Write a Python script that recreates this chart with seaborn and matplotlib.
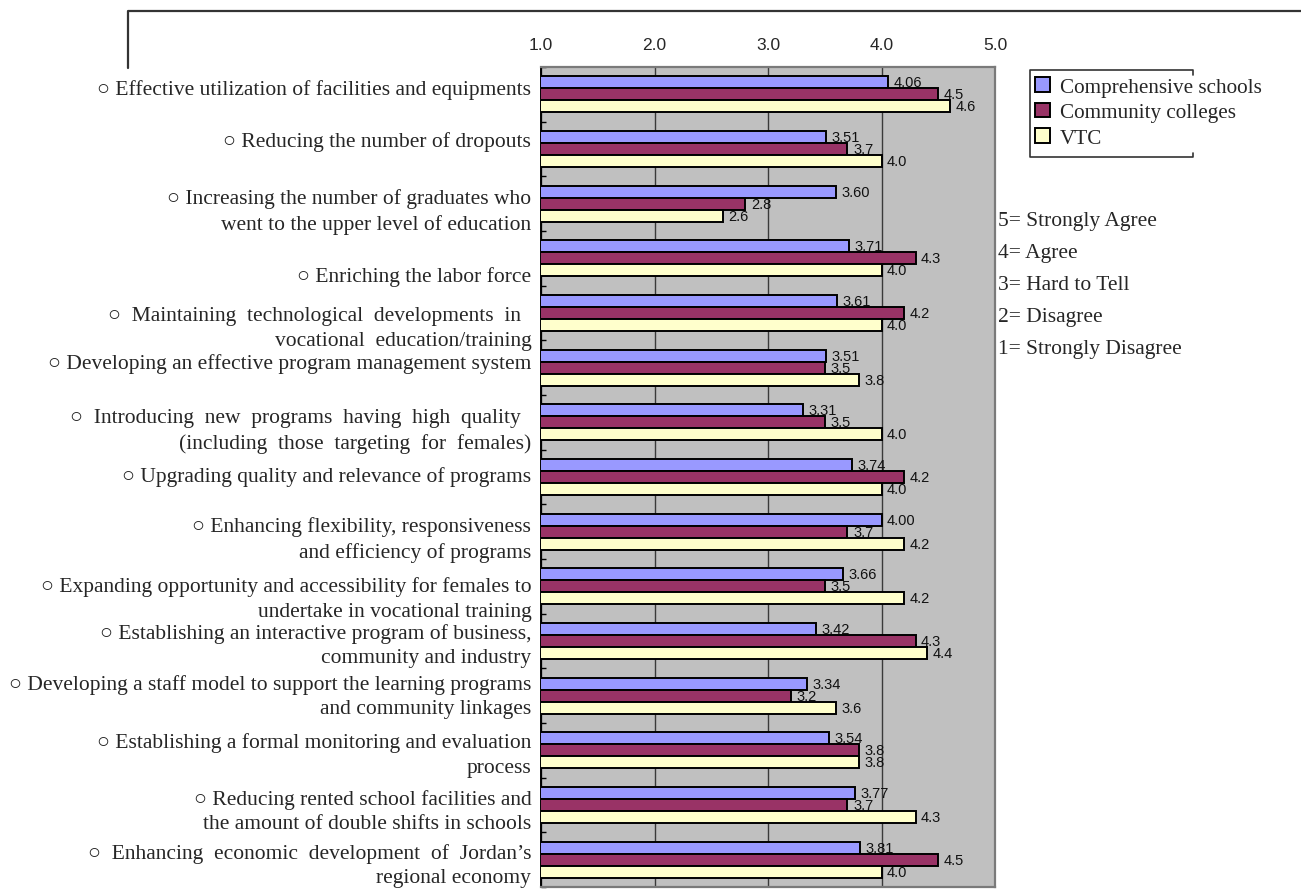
import numpy as np
import pandas as pd
import matplotlib
matplotlib.use("Agg")
import matplotlib.pyplot as plt
from matplotlib.lines import Line2D
from matplotlib.transforms import ScaledTranslation
import seaborn as sns

# Survey items (top to bottom) and mean agreement scores per institution type
items = [
    "○ Effective utilization of facilities and equipments",
    "○ Reducing the number of dropouts",
    "○ Increasing the number of graduates who\nwent to the upper level of education",
    "○ Enriching the labor force",
    "○  Maintaining  technological  developments  in  \nvocational  education/training",
    "○ Developing an effective program management system",
    "○  Introducing  new  programs  having  high  quality  \n(including  those  targeting  for  females)",
    "○ Upgrading quality and relevance of programs",
    "○ Enhancing flexibility, responsiveness\nand efficiency of programs",
    "○ Expanding opportunity and accessibility for females to\nundertake in vocational training",
    "○ Establishing an interactive program of business,\ncommunity and industry",
    "○ Developing a staff model to support the learning programs\nand community linkages",
    "○ Establishing a formal monitoring and evaluation\nprocess",
    "○ Reducing rented school facilities and\nthe amount of double shifts in schools",
    "○  Enhancing  economic  development  of  Jordan’s\nregional economy",
]

groups = ["Comprehensive schools", "Community colleges", "VTC"]

comprehensive = [4.06, 3.51, 3.60, 3.71, 3.61, 3.51, 3.31, 3.74, 4.00, 3.66, 3.42, 3.34, 3.54, 3.77, 3.81]
community = [4.5, 3.7, 2.8, 4.3, 4.2, 3.5, 3.5, 4.2, 3.7, 3.5, 4.3, 3.2, 3.8, 3.7, 4.5]
vtc = [4.6, 4.0, 2.6, 4.0, 4.0, 3.8, 4.0, 4.0, 4.2, 4.2, 4.4, 3.6, 3.8, 4.3, 4.0]

x_ticks = [1.0, 2.0, 3.0, 4.0, 5.0]
x_tick_labels = ["1.0", "2.0", "3.0", "4.0", "5.0"]

scale_labels = [
    "5= Strongly Agree",
    "4= Agree",
    "3= Hard to Tell",
    "2= Disagree",
    "1= Strongly Disagree",
]

palette = {"Comprehensive schools": "#9999FF",
           "Community colleges": "#993366",
           "VTC": "#FFFFCC"}
label_formats = ["{:.2f}", "{:.1f}", "{:.1f}"]

# vertical nudge (pixels, downward) of each item label relative to its bar group
label_nudge_px = [-8, -10, 2, 15, 10, -7, 3, -3, 2, 7, -1, -5, -1, 1, 0]

df = pd.DataFrame({
    "item": items * 3,
    "group": np.repeat(groups, len(items)),
    "score": comprehensive + community + vtc,
})

sns.set_style("white")
serif = ["Liberation Serif", "DejaVu Sans"]
sans = ["Liberation Sans", "DejaVu Sans"]
plt.rcParams["font.family"] = serif

W, H = 1301, 895
fig = plt.figure(figsize=(W / 100, H / 100), dpi=100)
ax = fig.add_axes([541 / W, 1 - 888 / H, (995 - 541) / W, (888 - 68) / H])
ax.set_facecolor("#C0C0C0")

sns.barplot(data=df, y="item", x="score", hue="group", hue_order=groups,
            palette=palette, orient="h", width=0.66, errorbar=None,
            edgecolor="black", linewidth=1.4, saturation=1, ax=ax,
            legend=False, zorder=3)

ax.set_xlim(1, 5)
ax.set_ylim(len(items) - 0.5, -0.5)
ax.set_xlabel("")
ax.set_ylabel("")

# vertical gridlines at the scale points, labels on top
ax.set_xticks(x_ticks)
ax.xaxis.grid(True, color="#3a3a3a", linewidth=1.0, zorder=1)
ax.set_axisbelow(True)
ax.xaxis.tick_top()
ax.set_xticklabels(x_tick_labels, family=sans, fontsize=12.5)
ax.tick_params(axis="x", length=0, pad=11)

# category labels and inward ticks between categories
ax.tick_params(axis="y", which="major", length=0, pad=7, labelsize=15.5)
ax.set_yticks(np.arange(-0.5, len(items), 1), minor=True)
ax.tick_params(axis="y", which="minor", direction="in", length=3.5,
               width=1, color="black", left=True)
for lab, nudge in zip(ax.get_yticklabels(), label_nudge_px):
    lab.set_linespacing(1.38)
    lab.set_transform(lab.get_transform()
                      + ScaledTranslation(0, -nudge / 100, fig.dpi_scale_trans))

for side in ("top", "right", "bottom"):
    ax.spines[side].set_color("#7a7a7a")
    ax.spines[side].set_linewidth(1.6)
ax.spines["left"].set_color("black")
ax.spines["left"].set_linewidth(1.4)

# value labels beside each bar
for cont, fmt in zip(ax.containers, label_formats):
    ax.bar_label(cont, labels=[fmt.format(v) for v in cont.datavalues],
                 padding=4, fontsize=10.5, family=sans, color="#111111")

# legend
handles = [plt.Rectangle((0, 0), 1, 1, facecolor=palette[g], edgecolor="black",
                         linewidth=1.4) for g in groups]
fig.legend(handles, groups, loc="upper left",
           bbox_to_anchor=(1031 / W, 1 - 74 / H), frameon=False,
           fontsize=15.2, handlelength=0.7, handleheight=0.7,
           handletextpad=0.45, labelspacing=0.27, borderpad=0.2,
           borderaxespad=0)

# open box around the legend
px, py = 1 / W, 1 / H
lx0, lx1, ly0, ly1 = 1030 * px, 1193 * px, 1 - 71 * py, 1 - 158 * py
fig.add_artist(Line2D([lx1, lx1, lx0, lx0, lx1, lx1],
                      [ly0 - 5 * py, ly0, ly0, ly1, ly1, ly1 + 4 * py],
                      color="#333333", linewidth=1.2, transform=fig.transFigure))

# rating scale key
for i, txt in enumerate(scale_labels):
    fig.text(998 * px, 1 - (222 + i * 31.8) * py, txt, fontsize=15.5,
             ha="left", va="center", family=serif)

# outer frame corner
fig.add_artist(Line2D([128 * px, 128 * px, 1.0], [1 - 69 * py, 1 - 12 * py, 1 - 12 * py],
                      color="#333333", linewidth=1.6, transform=fig.transFigure))

fig.savefig("out.png", dpi=100)
